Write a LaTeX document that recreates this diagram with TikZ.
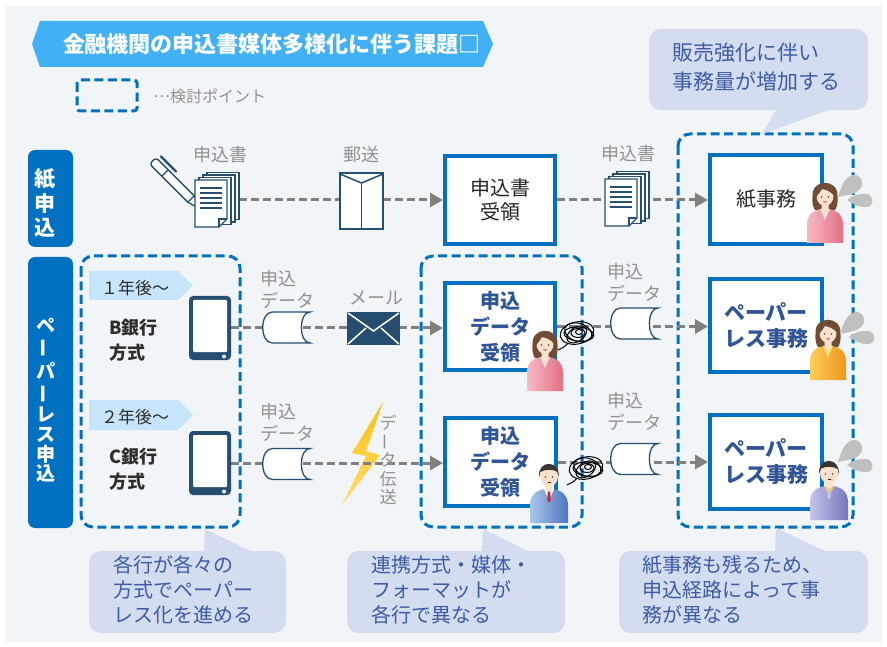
\documentclass[tikz,border=0pt]{standalone}
\usepackage{fontspec}
\setmainfont{Noto Sans CJK JP}
\usetikzlibrary{arrows.meta}

\definecolor{bgc}{RGB}{242,245,247}
\definecolor{ribbon}{RGB}{66,176,245}
\definecolor{mainblue}{RGB}{0,112,192}
\definecolor{navy}{RGB}{38,78,112}
\definecolor{callfill}{RGB}{211,221,239}
\definecolor{calltext}{RGB}{62,92,166}
\definecolor{boldblue}{RGB}{47,85,151}
\definecolor{greytxt}{RGB}{145,145,145}
\definecolor{arrowgrey}{RGB}{128,128,128}
\definecolor{tagfill}{RGB}{198,229,250}
\definecolor{darktxt}{RGB}{45,45,45}
\definecolor{boxtxt}{RGB}{38,38,38}
\definecolor{dropgrey}{RGB}{192,192,192}
\definecolor{skin}{RGB}{252,226,205}
\definecolor{hairw}{RGB}{112,76,52}
\definecolor{hairm}{RGB}{62,52,46}
\definecolor{pinkL}{RGB}{246,186,196}
\definecolor{pinkD}{RGB}{226,112,132}
\definecolor{blouseP}{RGB}{250,220,225}
\definecolor{orangeL}{RGB}{252,205,90}
\definecolor{orangeD}{RGB}{238,150,30}
\definecolor{blouseO}{RGB}{250,230,120}
\definecolor{suitL}{RGB}{170,198,236}
\definecolor{suitD}{RGB}{78,118,190}
\definecolor{tieR}{RGB}{200,40,60}
\definecolor{purpL}{RGB}{196,196,234}
\definecolor{purpD}{RGB}{118,118,188}
\definecolor{collarY}{RGB}{235,200,90}
\definecolor{boltTop}{RGB}{255,190,20}
\definecolor{boltBot}{RGB}{255,222,110}

\newcommand{\fsz}[2]{\fontsize{#1}{#2}\selectfont}

% stack of application forms, #1,#2 = top-left of the front sheet
\newcommand{\paperstack}[2]{%
  \begin{scope}[shift={(#1,#2)}, line width=1.4pt]
    \filldraw[fill=white, draw=navy] (12,-7.5) rectangle (44,39.5);
    \filldraw[fill=white, draw=navy] (8,-5) rectangle (40,42);
    \filldraw[fill=white, draw=navy] (4,-2.5) rectangle (36,44.5);
    \filldraw[fill=white, draw=navy] (0,0) -- (32,0) -- (32,39) -- (24,47) -- (0,47) -- cycle;
    \draw[navy] (24,47) -- (24,39) -- (32,39);
    \foreach \yy in {8,13,18,23,28} \draw[navy, line width=1.2pt] (5,\yy) -- (27,\yy);
  \end{scope}}

% tablet, centred at #1,#2
\newcommand{\tablet}[2]{%
  \begin{scope}[shift={(#1,#2)}]
    \fill[navy, rounded corners=4pt] (-21,-32) rectangle (21,32);
    \fill[white, rounded corners=1pt] (-17,-28) rectangle (17,24);
    \fill[white] (14,28.5) circle (2);
  \end{scope}}

% data cylinder lying on its side, centred at #1,#2
\newcommand{\datacyl}[2]{%
  \begin{scope}[shift={(#1,#2)}]
    \filldraw[fill=white, draw=navy, line width=1.3pt]
      (-14,-15.5) -- (23.5,-15.5) .. controls (12,-15.5) and (12,15.5) .. (23.5,15.5)
      -- (-14,15.5) .. controls (-27,15.5) and (-27,-15.5) .. (-14,-15.5) -- cycle;
  \end{scope}}

% woman: #1,#2 face centre, #3/#4 jacket shades, #5 blouse
\newcommand{\womanicon}[5]{%
  \begin{scope}[shift={(#1,#2)}]
    \fill[hairw] (-12.5,2) .. controls (-14,-17) and (14,-17) .. (12.5,2)
      .. controls (13,8) and (12,12) .. (10,15) -- (-10,15) .. controls (-12,12) and (-13,8) .. cycle;
    \shade[left color=#3, right color=#4] (-18,48) -- (-18,30) .. controls (-18,18) and (-10,15) .. (-4,14)
      -- (4,14) .. controls (10,15) and (18,18) .. (18,30) -- (18,48) -- cycle;
    \fill[#5] (-5,14) -- (0,25) -- (5,14) -- cycle;
    \fill[skin] (-3.5,8) -- (3.5,8) -- (3.5,15) -- (0,19) -- (-3.5,15) -- cycle;
    \fill[skin] (0,1) ellipse (8.5 and 10);
    \fill[hairw] (-9.5,3) .. controls (-11,-13) and (9,-14) .. (10,2)
      .. controls (6,-4) and (1,-5) .. (-3,-6) .. controls (-5,-3) and (-7,0) .. cycle;
    \fill[black!70] (-3.5,2) circle (0.9) (3.5,2) circle (0.9);
    \draw[red!60!black, line width=0.6pt] (-1.5,6.5) .. controls (-0.5,7.5) and (0.5,7.5) .. (1.5,6.5);
  \end{scope}}

% man: #1,#2 face centre, #3/#4 jacket shades, #5 shirt, #6 tie
\newcommand{\manicon}[6]{%
  \begin{scope}[shift={(#1,#2)}]
    \shade[left color=#3, right color=#4] (-19,48) -- (-19,30) .. controls (-19,18) and (-10,15) .. (-4,14)
      -- (4,14) .. controls (10,15) and (19,18) .. (19,30) -- (19,48) -- cycle;
    \fill[#5] (-5,14) -- (0,26) -- (5,14) -- cycle;
    \fill[#6] (-1.3,16) -- (1.3,16) -- (1.8,25) -- (0,28) -- (-1.8,25) -- cycle;
    \fill[skin] (-3.5,8) -- (3.5,8) -- (3.5,15) -- (0,17) -- (-3.5,15) -- cycle;
    \fill[skin] (0,1) ellipse (9 and 10.5);
    \fill[hairm] (-9.8,2) .. controls (-12,-15) and (11,-16) .. (9.8,2)
      -- (8.6,-3) .. controls (4,-6) and (-4,-6) .. (-8.6,-3) -- cycle;
    \fill[black!70] (-3.5,2) circle (0.9) (3.5,2) circle (0.9);
    \draw[red!50!black, line width=0.6pt] (-1.5,7) -- (1.5,7);
  \end{scope}}

% two grey sweat drops, #1,#2 top-left of the group
\newcommand{\sweatdrops}[2]{%
  \begin{scope}[shift={(#1,#2)}]
    \fill[dropgrey] (0,22) .. controls (3,13) and (6,2) .. (15,0) .. controls (23,-1) and (27,8) .. (22,14)
      .. controls (17,20) and (8,20) .. cycle;
    \fill[dropgrey] (9,25) .. controls (15,20) and (21,18.5) .. (28,19) .. controls (36,19.5) and (37,31) .. (29,32)
      .. controls (22,33) and (15,29) .. cycle;
  \end{scope}}

% tangled scribble of confusion, centred at #1,#2
\newcommand{\tangle}[2]{%
  \begin{scope}[shift={(#1,#2)}, line width=1pt]
    \draw[rotate=12] (0,0) ellipse (17 and 11);
    \draw[rotate=-18] (1,-1) ellipse (14 and 9);
    \draw[rotate=35] (-1,1) ellipse (11 and 7);
    \draw[rotate=-5] (2,1) ellipse (15 and 7);
    \draw (1,0) ellipse (7 and 4.5);
    \draw (2,-1) ellipse (3.5 and 2.5);
    \draw (-9,10) .. controls (-12,14) and (-15,15) .. (-19,17);
  \end{scope}}

\tikzset{
  lbl/.style={inner sep=0pt, text=greytxt, font=\fsz{18}{22}, align=left},
  flow/.style={draw=arrowgrey, line width=3pt, dash pattern=on 8pt off 4pt,
    -{Triangle[length=13pt,width=14pt]}},
  recvbox/.style={draw=mainblue, line width=4pt, fill=white, inner sep=0pt, align=center},
  focusbox/.style={draw=mainblue, line width=3pt, dash pattern=on 9pt off 4.5pt, rounded corners=12pt},
  calltxt/.style={inner sep=0pt, text=calltext, font=\fsz{20}{25}, align=left, anchor=west},
  sidelabel/.style={fill=mainblue, rounded corners=7pt},
  vchar/.style={inner sep=0pt, text=white, font=\bfseries\fsz{21}{21}},
  vcharsm/.style={inner sep=0pt, text=white, font=\bfseries\fsz{19}{19}},
  vgrey/.style={inner sep=0pt, text=greytxt, font=\fsz{17}{17}},
  tagtxt/.style={inner sep=0pt, text=darktxt, font=\fsz{17}{17}},
  banktxt/.style={inner sep=0pt, anchor=west, align=left, text=darktxt, font=\bfseries\fsz{18}{25}},
  iconnode/.style={inner sep=0pt},
}

\begin{document}
\begin{tikzpicture}[x=1pt,y=-1pt]
\useasboundingbox (0,0) rectangle (887,647);
\fill[white] (0,0) rectangle (887,647);
\fill[bgc] (5,6) rectangle (882,642);

% title ribbon
\fill[ribbon] (32,44) -- (40,21) -- (483,21) -- (493,44) -- (483,67) -- (40,67) -- cycle;
\node[inner sep=0pt, text=white, font=\bfseries\fsz{22}{22}] (title) at (272,44) {金融機関の申込書媒体多様化に伴う課題□};

% legend
\draw[focusbox, rounded corners=3pt] (77,80) rectangle (137,111);
\node[inner sep=0pt, anchor=west, text=greytxt, font=\fsz{16}{16}] (legend) at (153,96) {\raisebox{0.3em}{…}検討ポイント};

% areas under review
\draw[focusbox] (81,256) rectangle (240,527);
\draw[focusbox] (421,256) rectangle (582,527);
\draw[focusbox] (678,134) rectangle (853,527);

% upper-right remark
\fill[callfill] (777,108) -- (762,134) -- (835,108) -- cycle;
\fill[callfill, rounded corners=12pt] (649,29) rectangle (868,110);
\node[calltxt, font=\fsz{21}{29}] (noteTop) at (672,67.5) {販売強化に伴い\\事務量が増加する};

% row headings
\fill[sidelabel] (28,150) rectangle (73,247);
\node[vchar] (hA1) at (45,179) {紙};
\node[vchar] (hA2) at (45,204) {申};
\node[vchar] (hA3) at (45,228) {込};
\fill[sidelabel] (28,257) rectangle (73,528);
\node[vcharsm] (hB1) at (46,325) {ペ};
\node[vcharsm, rotate=90] (hB2) at (46,348) {ー};
\node[vcharsm] (hB3) at (46,371) {パ};
\node[vcharsm, rotate=90] (hB4) at (46,394) {ー};
\node[vcharsm] (hB5) at (46,415) {レ};
\node[vcharsm] (hB6) at (46,435) {ス};
\node[vcharsm] (hB7) at (46,454) {申};
\node[vcharsm] (hB8) at (46,473) {込};

% bank tags
\fill[tagfill] (89,271) -- (178,271) -- (193,285.5) -- (178,300) -- (89,300) -- cycle;
\node[tagtxt] (tagB) at (135,288) {１年後～};
\node[banktxt] (bankB) at (109,340.5) {B銀行\\方式};
\fill[tagfill] (89,400) -- (178,400) -- (193,415) -- (178,430) -- (89,430) -- cycle;
\node[tagtxt] (tagC) at (135,417) {２年後～};
\node[banktxt] (bankC) at (109,469.5) {C銀行\\方式};

% receiving and processing boxes
\node[recvbox, minimum width=110, minimum height=88, text=boxtxt, font=\fsz{20}{24}] (recA) at (500,200) {申込書\\受領};
\node[recvbox, minimum width=112, minimum height=89, text=boxtxt, font=\fsz{20}{24}] (paperA) at (766,199.5) {紙事務};
\node[recvbox, minimum width=110, minimum height=87, text=boldblue, font=\bfseries\fsz{20}{26}] (recB) at (500,326.5) {申込\\データ\\受領};
\node[recvbox, minimum width=112, minimum height=93, text=boldblue, font=\bfseries\fsz{21}{26}] (plB) at (766,325.5) {ペーパー\\レス事務};
\node[recvbox, minimum width=111, minimum height=88, text=boldblue, font=\bfseries\fsz{20}{26}] (recC) at (500.5,462) {申込\\データ\\受領};
\node[recvbox, minimum width=112, minimum height=94, text=boldblue, font=\bfseries\fsz{21}{26}] (plC) at (766,462) {ペーパー\\レス事務};

% icon anchors
\node[iconnode, minimum width=44, minimum height=55] (docA) at (217,200) {};
\node[iconnode, minimum width=43, minimum height=56] (postA) at (361.5,201) {};
\node[iconnode, minimum width=42, minimum height=64] (tabB) at (210,328) {};
\node[iconnode, minimum width=42, minimum height=64] (tabC) at (210,463) {};

% lightning for data transfer
\shade[top color=boltTop, bottom color=boltBot]
  (383,402) -- (352,453) -- (366,456) -- (342,505) -- (380,455) -- (366,451) -- cycle;

% flows
\draw[flow] (docA.east) -- (docA.east -| recA.west);
\draw[flow] (recA.east) -- (recA.east -| paperA.west);
\draw[flow] (tabB.east) -- (tabB.east -| recB.west);
\draw[flow] (recB.east) -- (recB.east -| plB.west);
\draw[flow] (tabC.east) -- (tabC.east -| recC.west);
\draw[flow] (recC.east) -- (recC.east -| plC.west);

% pen and paper forms
\filldraw[fill=white, draw=navy, line width=1.3pt, line join=round]
  (151.8,166.2) -- (187.8,202.2) -- (202,210) -- (194.2,195.8) -- (158.2,159.8)
  .. controls (155,156.6) and (148.6,163) .. cycle;
\draw[navy, line width=1.2pt] (161.8,176.2) -- (168.2,169.8);
\draw[navy, line width=1.2pt] (187.8,202.2) -- (194.2,195.8);
\draw[navy, line width=2.4pt, line cap=round] (161,156.5) -- (176,171.5);
\paperstack{195}{180}
\paperstack{605}{179}

% postal envelope
\filldraw[fill=white, draw=navy, line width=2pt] (340,173) rectangle (383,229);
\draw[navy, line width=1.5pt] (340,174) -- (361.5,183) -- (383,174);
\draw[navy, line width=1.5pt] (361.5,183) -- (361.5,229);

% tablets
\tablet{210}{328}
\tablet{210}{463}

% data cylinders
\datacyl{286.5}{327.5}
\datacyl{634.5}{323.5}
\datacyl{286.5}{464}
\datacyl{634.5}{459}

% e-mail envelope
\fill[navy] (347,312) rectangle (400,345);
\draw[white, line width=1.5pt] (348,313) -- (373.5,331) -- (399,313);
\draw[white, line width=1.5pt] (348,344) -- (366,328);
\draw[white, line width=1.5pt] (399,344) -- (381,328);

% grey labels
\node[lbl] (lblDocA) at (220,155) {申込書};
\node[lbl] (lblPost) at (361,155) {郵送};
\node[lbl] (lblDocB) at (628,154) {申込書};
\node[lbl, anchor=west] (lblDataB1) at (260,289) {申込\\データ};
\node[lbl] (lblMail) at (376,298) {メール};
\node[lbl, anchor=west] (lblDataB2) at (607,282.5) {申込\\データ};
\node[lbl, anchor=west] (lblDataC1) at (260,422.5) {申込\\データ};
\node[lbl, anchor=west] (lblDataC2) at (607,411) {申込\\データ};
\node[vgrey] (vt1) at (388,423) {デ};
\node[vgrey, rotate=90] (vt2) at (388,442) {ー};
\node[vgrey] (vt3) at (388,460) {タ};
\node[vgrey] (vt4) at (388,479) {伝};
\node[vgrey] (vt5) at (388,497) {送};

% staff
\womanicon{825}{195}{pinkL}{pinkD}{blouseP}
\sweatdrops{838}{175}
\womanicon{545}{343}{pinkL}{pinkD}{blouseP}
\womanicon{828}{332}{orangeL}{orangeD}{blouseO}
\sweatdrops{840}{312}
\manicon{549}{475}{suitL}{suitD}{white}{tieR}
\manicon{829}{472}{purpL}{purpD}{collarY}{purpL}
\sweatdrops{838}{440}

% confusion scribbles
\tangle{577}{333}
\tangle{586}{468}

% lower remarks
\fill[callfill] (204,552) -- (205,529) -- (253,552) -- cycle;
\fill[callfill, rounded corners=12pt] (89,551) rectangle (286,633);
\node[calltxt] (note1) at (113,590) {各行が各々の\\方式でペーパー\\レス化を進める};
\fill[callfill] (482,552) -- (483,529) -- (530,552) -- cycle;
\fill[callfill, rounded corners=12pt] (347,551) rectangle (565,633);
\node[calltxt] (note2) at (371,590) {連携方式・媒体・\\フォーマットが\\各行で異なる};
\fill[callfill] (775,552) -- (776,528) -- (827,552) -- cycle;
\fill[callfill, rounded corners=12pt] (619,551) rectangle (868,633);
\node[calltxt] (note3) at (642,590) {紙事務も残るため、\\申込経路によって事\\務が異なる};
\end{tikzpicture}
\end{document}
